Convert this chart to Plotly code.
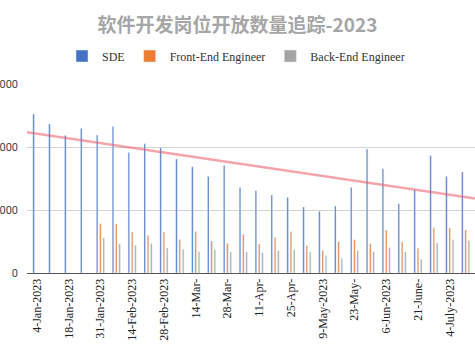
import plotly.graph_objects as go

weeks = ["4-Jan-2023", "11-Jan-2023", "18-Jan-2023", "25-Jan-2023", "31-Jan-2023",
         "7-Feb-2023", "14-Feb-2023", "21-Feb-2023", "28-Feb-2023", "7-Mar-2023",
         "14-Mar-", "21-Mar-", "28-Mar-", "4-Apr-", "11-Apr-", "18-Apr-", "25-Apr-",
         "2-May-2023", "9-May-2023", "16-May-", "23-May-", "30-May-", "6-Jun-2023",
         "13-Jun-", "21-June-", "27-June-", "4-July-2023", "11-July-2023"]

sde = [2524, 2365, 2184, 2295, 2190, 2327, 1914, 2052, 1989, 1810, 1687, 1533, 1708, 1359,
       1306, 1238, 1200, 1048, 978, 1063, 1359, 1968, 1656, 1100, 1322, 1862, 1533, 1603]
front_end = [None, None, None, None, 782, 778, 651, 597, 651, 533, 660, 508, 470, 613,
             460, 565, 656, 433, 359, 497, 529, 465, 683, 492, 391, 719, 714, 683]
back_end = [None, None, None, None, 556, 460, 438, 465, 397, 381, 338, 370, 333, 333,
            322, 354, 370, 333, 275, 232, 354, 338, 402, 333, 216, 476, 529, 513]

# linear trendline of SDE (value at first week and weekly change)
trend_start = 2210
trend_slope = -37.2

x_idx = list(range(len(weeks)))
tick_idx = x_idx[::2]
tick_text = [weeks[i] for i in tick_idx]

x_range = [-0.623, 27.59]

fig = go.Figure()
fig.add_trace(go.Bar(name="SDE", x=x_idx, y=sde, marker_color="#4472C4"))
fig.add_trace(go.Bar(name="Front-End Engineer", x=x_idx, y=front_end, marker_color="#ED7D31"))
fig.add_trace(go.Bar(name="Back-End Engineer", x=x_idx, y=back_end, marker_color="#A5A5A5"))

trend_x = x_range
trend_y = [trend_start + trend_slope * v for v in trend_x]
fig.add_trace(go.Scatter(x=trend_x, y=trend_y, mode="lines", showlegend=False,
                         line=dict(color="rgba(236,90,100,0.55)", width=2.5),
                         hoverinfo="skip"))

fig.update_layout(
    width=475, height=356,
    margin=dict(l=27, r=0, t=84, b=83),
    paper_bgcolor="white", plot_bgcolor="white",
    barmode="group", bargap=0.377, bargroupgap=0.55,
    title=dict(text="<b>软件开发岗位开放数量追踪-2023</b>",
               font=dict(family="Noto Sans CJK SC", size=19, color="#a6a6a6"),
               x=0.5, xref="container", xanchor="center",
               y=1 - 25 / 356, yref="container", yanchor="middle", automargin=False),
    legend=dict(orientation="h", x=(236 - 27) / 448, xref="paper", xanchor="center",
                y=(273.3 - 56) / 189.3, yref="paper", yanchor="middle",
                font=dict(family="Liberation Serif", size=12, color="#333"),
                itemwidth=30, traceorder="normal"),
    showlegend=True,
)
fig.update_xaxes(type="linear", range=x_range, tickmode="array", tickvals=tick_idx,
                 ticktext=tick_text, tickangle=-90, showgrid=False, zeroline=False,
                 showline=True, linecolor="#555", linewidth=1, ticks="", automargin=False,
                 tickfont=dict(family="Liberation Serif", size=12, color="#222"))
fig.update_yaxes(range=[0, 3000], dtick=1000, showgrid=True, gridcolor="#d3d3d3",
                 zeroline=False, showline=False, ticks="", automargin=False,
                 ticklabelstandoff=8,
                 tickfont=dict(family="Roboto", size=11, color="#444"))

fig.write_html("out.html", config={"displayModeBar": False},
               post_script="document.body.style.margin='0';document.body.style.overflow='hidden';")
